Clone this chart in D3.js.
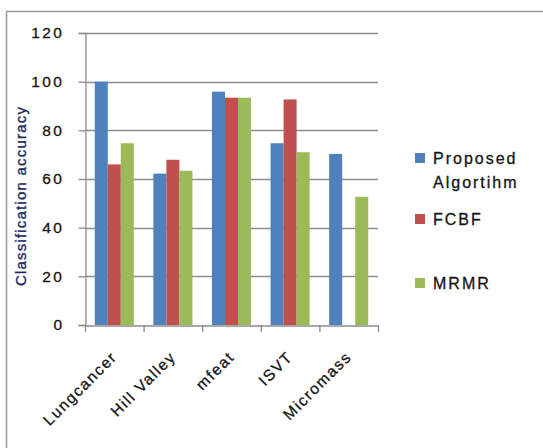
<!DOCTYPE html>
<html>
<head>
<meta charset="utf-8">
<script src="https://cdn.jsdelivr.net/npm/d3@7"></script>
<style>
  html, body { margin: 0; padding: 0; background: #fff; }
  svg { display: block; }
  text { font-family: "Liberation Sans", Arial, sans-serif; }
</style>
</head>
<body>
<svg id="chart" width="543" height="448"></svg>
<script>
// Classification accuracy per dataset for three feature-selection methods
const categories = ["Lungcancer", "Hill Valley", "mfeat", "ISVT", "Micromass"];
const proposed = [100, 62.2, 95.9, 74.7, 70.3];
const fcbf     = [66.0, 67.9, 93.4, 92.7, null];
const mrmr     = [74.7, 63.4, 93.4, 71.0, 52.7];
const seriesNames = ["Proposed Algortihm", "FCBF", "MRMR"];
const seriesColors = ["#4F81BD", "#C0504D", "#9BBB59"];
const yTicks = [0, 20, 40, 60, 80, 100, 120];

const series = [proposed, fcbf, mrmr];

const svg = d3.select("#chart");

// Outer chart frame (open on the right and bottom)
svg.append("path")
  .attr("d", "M6.5,448 L6.5,11.5 L543,11.5")
  .attr("fill", "none")
  .attr("stroke", "#9a9a9a")
  .attr("stroke-width", 1.5);

const plot = { left: 85, right: 378, top: 33, bottom: 325 };

const x0 = d3.scaleBand()
  .domain(categories)
  .range([plot.left, plot.right])
  .paddingInner(0)
  .paddingOuter(0);

const x1 = d3.scaleBand()
  .domain(d3.range(series.length))
  .range([0, x0.bandwidth()])
  .paddingOuter(0.75)
  .paddingInner(0);

const y = d3.scaleLinear()
  .domain([0, 120])
  .range([plot.bottom, plot.top]);

const textStyle = sel => sel
  .attr("fill", "#151515")
  .attr("stroke", "#151515")
  .attr("stroke-width", 0.3);

// Horizontal gridlines
svg.append("g")
  .selectAll("line")
  .data(yTicks.filter(t => t > 0))
  .join("line")
  .attr("x1", plot.left)
  .attr("x2", plot.right)
  .attr("y1", d => Math.round(y(d)) + 0.5)
  .attr("y2", d => Math.round(y(d)) + 0.5)
  .attr("stroke", "#8c8c8c")
  .attr("stroke-width", 1.3);

// Y axis
const yAxis = svg.append("g")
  .attr("transform", `translate(${plot.left + 0.5},0)`)
  .call(d3.axisLeft(y).tickValues(yTicks).tickSize(7).tickPadding(14));
yAxis.select(".domain").attr("stroke", "#8c8c8c").attr("stroke-width", 1.3);
yAxis.selectAll(".tick line").attr("stroke", "#8c8c8c").attr("stroke-width", 1.3);
yAxis.selectAll(".tick text")
  .call(textStyle)
  .style("font-size", "15.5px")
  .style("letter-spacing", "2.5px");

// Bars
const groups = svg.append("g")
  .selectAll("g")
  .data(categories)
  .join("g")
  .attr("transform", d => `translate(${x0(d)},0)`);

groups.selectAll("rect")
  .data((d, i) => series.map((s, k) => ({ k, v: s[i] })).filter(o => o.v != null))
  .join("rect")
  .attr("x", d => x1(d.k))
  .attr("width", x1.bandwidth())
  .attr("y", d => y(d.v))
  .attr("height", d => y(0) - y(d.v))
  .attr("fill", d => seriesColors[d.k]);

// X axis
const xAxis = svg.append("g")
  .attr("transform", `translate(0,${plot.bottom + 0.5})`)
  .call(d3.axisBottom(x0).tickSize(0).tickFormat(""));
xAxis.select(".domain").attr("stroke", "#8c8c8c").attr("stroke-width", 1.3);

// Category boundary tick marks
svg.append("g")
  .selectAll("line")
  .data(d3.range(categories.length + 1))
  .join("line")
  .attr("x1", i => plot.left + i * x0.step() + 0.5)
  .attr("x2", i => plot.left + i * x0.step() + 0.5)
  .attr("y1", plot.bottom)
  .attr("y2", plot.bottom + 7)
  .attr("stroke", "#8c8c8c")
  .attr("stroke-width", 1.3);

// Rotated category labels
svg.append("g")
  .selectAll("text")
  .data(categories)
  .join("text")
  .attr("transform", d => `translate(${x0(d) + x0.bandwidth() / 2},${plot.bottom + 29}) rotate(-45)`)
  .attr("text-anchor", "end")
  .attr("dy", "0.35em")
  .call(textStyle)
  .style("font-size", "15.5px")
  .style("letter-spacing", "1.6px")
  .text(d => d);

// Y axis title
svg.append("text")
  .attr("transform", "translate(26,196) rotate(-90)")
  .attr("text-anchor", "middle")
  .attr("fill", "#1b2a5c")
  .attr("stroke", "#1b2a5c")
  .attr("stroke-width", 0.35)
  .style("font-size", "15px")
  .style("letter-spacing", "1.2px")
  .text("Classification accuracy");

// Legend
const legendItems = [
  { lines: ["Proposed", "Algortihm"], y: 158 },
  { lines: ["FCBF"], y: 219 },
  { lines: ["MRMR"], y: 283 }
];
const legend = svg.append("g");
legendItems.forEach((item, i) => {
  legend.append("rect")
    .attr("x", 415)
    .attr("y", item.y - 5)
    .attr("width", 10)
    .attr("height", 10)
    .attr("fill", seriesColors[i]);
  item.lines.forEach((ln, j) => {
    legend.append("text")
      .attr("x", 433)
      .attr("y", item.y + j * 24)
      .attr("dy", "0.36em")
      .call(textStyle)
      .style("font-size", "16px")
      .style("letter-spacing", "2px")
      .text(ln);
  });
});
</script>
</body>
</html>
